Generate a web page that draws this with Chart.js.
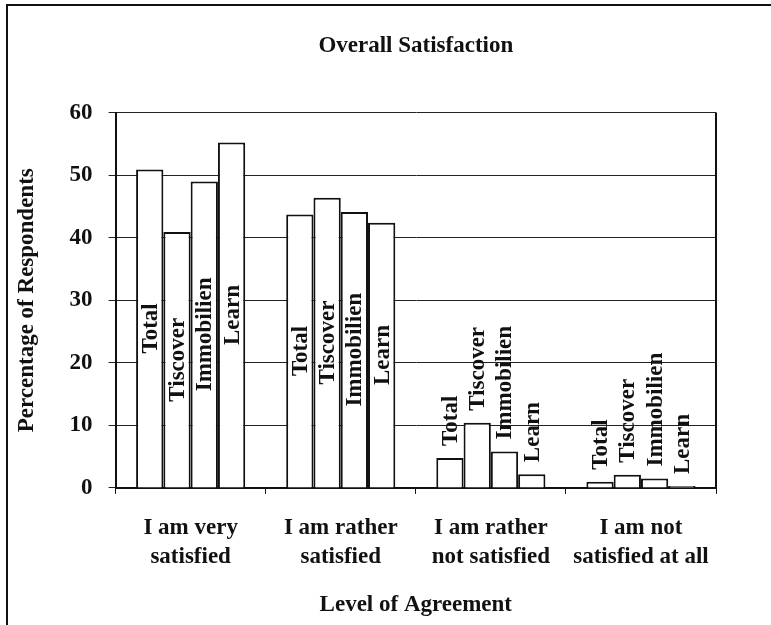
<!DOCTYPE html>
<html>
<head>
<meta charset="utf-8">
<title>Overall Satisfaction</title>
<script src="https://cdn.jsdelivr.net/npm/chart.js@4.4.1/dist/chart.umd.min.js"></script>
<style>
  body { margin: 0; background: #fff; }
  .chart_box { width: 771px; height: 625px; position: relative; }
</style>
</head>
<body>
<div class="chart_box">
  <canvas id="chart_satisfaction"></canvas>
</div>
<script>
let categories = [
  ['I am very', 'satisfied'],
  ['I am rather', 'satisfied'],
  ['I am rather', 'not satisfied'],
  ['I am not', 'satisfied at all']
]
let seriesNames = ['Total', 'Tiscover', 'Immobilien', 'Learn']
let totalValues = [50.9, 43.7, 4.8, 1.0]
let tiscoverValues = [40.9, 46.4, 10.4, 2.1]
let immobilienValues = [49.0, 44.1, 5.8, 1.5]
let learnValues = [55.2, 42.4, 2.2, 0.3]
let yTicks = [0, 10, 20, 30, 40, 50, 60]

let fontFamily = '"Liberation Serif", "Times New Roman", serif'
let seriesValues = [totalValues, tiscoverValues, immobilienValues, learnValues]

// series names written up the bars, like the excel labels
const barLabels = {
  id: 'barLabels',
  afterDatasetsDraw(chart) {
    let ctx = chart.ctx
    ctx.save()
    ctx.font = 'bold 23px ' + fontFamily
    ctx.fillStyle = '#111'
    ctx.textAlign = 'center'
    ctx.textBaseline = 'middle'
    chart.data.datasets.forEach((ds, i) => {
      let meta = chart.getDatasetMeta(i)
      meta.data.forEach(bar => {
        let w = ctx.measureText(ds.label).width
        let h = bar.base - bar.y
        let cy
        if (h > w + 20) {
          cy = (bar.y + bar.base) / 2
        }
        else {
          cy = bar.y - 12 - w / 2
        }
        ctx.save()
        ctx.translate(bar.x, cy)
        ctx.rotate(-Math.PI / 2)
        ctx.fillText(ds.label, 0, 1)
        ctx.restore()
      })
    })
    ctx.restore()
  }
}

const frameLines = {
  id: 'frameLines',
  afterDraw(chart) {
    let ctx = chart.ctx
    let area = chart.chartArea
    ctx.save()
    ctx.strokeStyle = '#111'
    ctx.lineWidth = 2
    ctx.beginPath()
    ctx.moveTo(area.right, area.top)
    ctx.lineTo(area.right, area.bottom)
    ctx.stroke()
    ctx.beginPath()
    ctx.moveTo(7, 625)
    ctx.lineTo(7, 5)
    ctx.lineTo(771, 5)
    ctx.stroke()
    ctx.restore()
  }
}

let ctxChart = document.getElementById('chart_satisfaction')

new Chart(ctxChart, {
  type: 'bar',
  data: {
    labels: categories,
    datasets: seriesNames.map((name, i) => ({
      label: name,
      data: seriesValues[i],
      backgroundColor: '#fff',
      borderColor: '#111',
      borderWidth: 2,
      barPercentage: 1,
      categoryPercentage: 0.727
    }))
  },
  options: {
    responsive: true,
    maintainAspectRatio: false,
    animation: false,
    layout: {
      padding: { left: 9, right: 55, top: 22, bottom: 1 }
    },
    plugins: {
      legend: { display: false },
      tooltip: { enabled: false },
      title: {
        display: true,
        fullSize: false,
        text: 'Overall Satisfaction',
        color: '#111',
        font: { family: fontFamily, size: 23, weight: 'bold' },
        padding: { top: 10, bottom: 53 }
      }
    },
    scales: {
      x: {
        grid: {
          display: true,
          drawOnChartArea: false,
          drawTicks: true,
          tickLength: 6,
          color: '#111',
          offset: true
        },
        border: { display: true, color: '#111', width: 2 },
        ticks: {
          color: '#111',
          padding: 20,
          maxRotation: 0,
          font: { family: fontFamily, size: 23, weight: 'bold', lineHeight: 1.25 }
        },
        title: {
          display: true,
          text: 'Level of Agreement',
          color: '#111',
          font: { family: fontFamily, size: 23, weight: 'bold' },
          padding: { top: 0, bottom: 5 }
        }
      },
      y: {
        min: 0,
        max: 60,
        afterBuildTicks: axis => {
          axis.ticks = yTicks.map(v => ({ value: v }))
        },
        grid: {
          color: '#222',
          lineWidth: 1,
          drawTicks: true,
          tickLength: 7
        },
        border: { display: true, color: '#111', width: 2 },
        ticks: {
          color: '#111',
          padding: 16,
          font: { family: fontFamily, size: 23, weight: 'bold' }
        },
        title: {
          display: true,
          text: 'Percentage of Respondents',
          color: '#111',
          font: { family: fontFamily, size: 23, weight: 'bold' },
          padding: { top: 4, bottom: 13 }
        }
      }
    }
  },
  plugins: [barLabels, frameLines]
})
</script>
</body>
</html>
